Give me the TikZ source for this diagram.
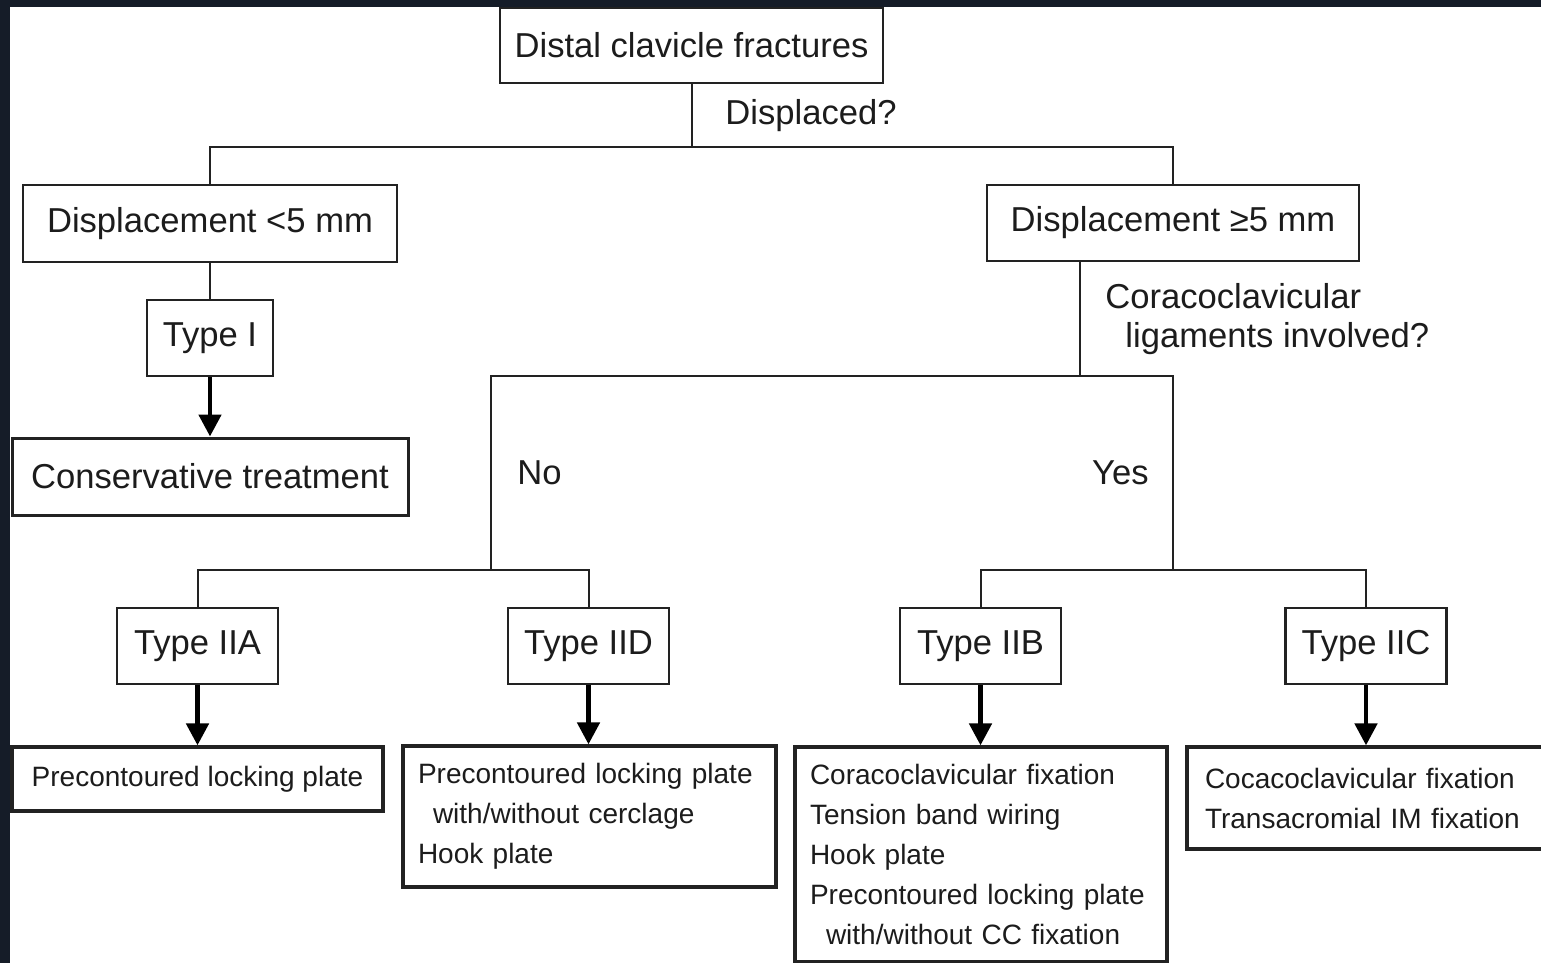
\documentclass[tikz,border=0pt]{standalone}
\usepackage{fontspec}
\setmainfont{Liberation Sans}
\usetikzlibrary{arrows.meta}
\definecolor{framebg}{RGB}{21,28,40}
\definecolor{linec}{RGB}{34,34,34}
\definecolor{txtc}{RGB}{28,28,28}
\newcommand{\bigf}{\fontsize{17.3}{19.5}\selectfont}
\newcommand{\smallf}{\fontsize{14}{20}\selectfont}
\tikzset{
 box/.style={draw=linec, line width=1.2pt, fill=white, inner sep=0pt, text=txtc, font=\bigf, align=center},
 typebox/.style={box, minimum width=80.5pt, minimum height=38pt},
 tbox/.style={draw=linec, line width=1.6pt, fill=white, inner xsep=7.5pt, inner ysep=0pt, text=txtc, font=\smallf, align=left},
 conn/.style={draw=linec, line width=1pt},
 arr/.style={draw=black, line width=2.4pt, -{Triangle[width=11pt,length=11pt]}},
 lbl/.style={inner sep=0pt, text=txtc, font=\bigf, align=left}
}
\begin{document}
\begin{tikzpicture}[x=0.5pt,y=-0.5pt]
\useasboundingbox (0,0) rectangle (1541,963);
\fill[framebg] (0,0) rectangle (1541,963);
\fill[white] (10,7) rectangle (1541,963);

% top level
\node[box, minimum width=191.5pt, minimum height=37.5pt] (top) at (691.5,45.5) {Distal clavicle fractures};
\node[lbl, anchor=base west] (q1) at (725,125) {Displaced?};
\node[box, minimum width=187pt, minimum height=38.5pt] (dlt) at (210,223.5) {Displacement <5 mm};
\node[box, minimum width=186pt, minimum height=38pt] (dge) at (1173,223) {Displacement ≥5 mm};

% left branch
\node[box, minimum width=63pt, minimum height=38pt] (ti) at (210,338) {Type I};
\node[box, line width=1.5pt, minimum width=198pt, minimum height=38.5pt] (cons) at (210,476.5) {Conservative treatment};

% right branch
\node[lbl, anchor=west] (q2) at (1105,318.75) {Coracoclavicular\\\hspace*{10pt}ligaments involved?};
\node[lbl, anchor=west] (no) at (517,473) {No};
\node[lbl, anchor=east] (yes) at (1149,473) {Yes};

\node[typebox] (t2a) at (197.5,646) {Type IIA};
\node[typebox] (t2d) at (588.5,646) {Type IID};
\node[typebox] (t2b) at (980.5,646) {Type IIB};
\node[typebox] (t2c) at (1366,646) {Type IIC};

% treatments
\node[tbox, align=center, inner xsep=0pt, minimum width=185.5pt, minimum height=32pt] (tra) at (197.5,779) {Precontoured locking plate};
\node[tbox, text width=171.5pt, minimum height=70.5pt] (trd) at (589.5,816.5) {Precontoured locking plate\\\hspace*{7.5pt}with/without cerclage\\Hook plate};
\node[tbox, text width=171pt, minimum height=107.5pt] (trb) at (981,854.5) {Coracoclavicular fixation\\Tension band wiring\\Hook plate\\Precontoured locking plate\\\hspace*{8pt}with/without CC fixation};
\node[tbox, inner xsep=9pt, text width=161pt, minimum height=51pt] (trc) at (1366,798) {Cocacoclavicular fixation\\Transacromial IM fixation};

% junction points
\coordinate (b1) at (691.5,147);
\coordinate (b2) at (1080,376);
\coordinate (b3L) at (491,570);
\coordinate (b3R) at (1173,570);

% connectors
\draw[conn] (top.south) -- (b1);
\draw[conn] (dlt.north) |- (b1) -| (dge.north);
\draw[conn] (dlt.south) -- (ti.north);
\draw[conn] (dge.south -| b2) -- (b2);
\draw[conn] (b3L) |- (b2) -| (b3R);
\draw[conn] (t2a.north) |- (b3L) -| (t2d.north);
\draw[conn] (t2b.north) |- (b3R) -| (t2c.north);

% arrows
\draw[arr] (ti.south) -- (cons.north);
\draw[arr] (t2a.south) -- (t2a.south |- tra.north);
\draw[arr] (t2d.south) -- (t2d.south |- trd.north);
\draw[arr] (t2b.south) -- (t2b.south |- trb.north);
\draw[arr] (t2c.south) -- (t2c.south |- trc.north);
\end{tikzpicture}
\end{document}
